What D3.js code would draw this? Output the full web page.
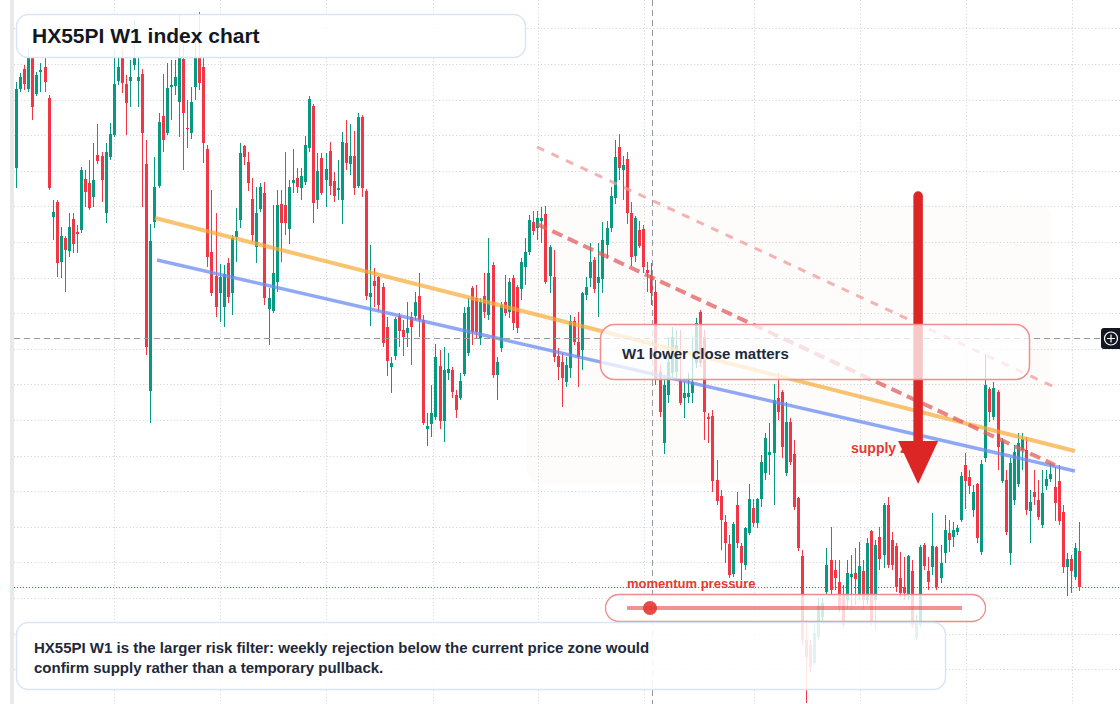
<!DOCTYPE html>
<html><head><meta charset="utf-8">
<script src="https://cdn.jsdelivr.net/npm/d3@7"></script>
<style>html,body{margin:0;padding:0;background:#fff;overflow:hidden}svg{display:block}</style>
</head><body>
<svg id="chart" width="1120" height="704"></svg>
<script>
// ---- data (weekly OHLC, index points) ----
const open = [632,711,731,711,742,706,728,733,702,583,598,538,562,549,581,568,570,621,617,603,645,644,587,643,665,719,742,716,719,735,719,726,636,409,578,614,684,667,713,714,698,741,672,667,713,742,733,651,548,524,507,493,537,507,563,580,654,638,601,553,591,607,491,489,518,596,595,571,617,622,612,618,652,694,600,642,620,649,619,610,600,657,636,644,614,683,609,503,519,523,513,473,433,444,484,470,467,483,484,504,480,371,376,383,434,379,427,430,405,402,426,447,512,502,462,504,485,535,425,452,498,488,522,513,511,533,548,578,572,579,586,524,523,444,438,418,432,479,458,450,505,522,540,517,521,555,572,602,653,630,641,587,544,570,571,530,525,508,428,357,405,427,428,419,402,403,407,437,488,463,383,384,320,304,278,256,226,295,254,235,267,292,277,301,327,345,347,402,408,327,378,346,302,244,160,155,137,163,183,208,240,230,218,205,200,223,227,205,229,200,269,200,263,245,295,260,254,222,213,205,229,162,175,255,229,233,253,222,247,267,263,268,280,335,323,290,316,248,342,411,383,408,319,320,247,300,316,350,350,289,308,300,275,314,321,313,319,288,233,241,223,249];
const high = [718,727,735,752,744,728,737,742,705,600,600,573,564,587,587,575,633,630,640,657,676,648,657,677,750,743,750,725,740,780,742,731,660,576,643,687,726,737,740,740,785,755,700,713,757,788,742,655,610,587,536,535,542,565,592,657,655,648,622,613,617,618,512,595,610,610,648,620,651,632,632,664,704,696,647,647,647,658,628,640,668,680,676,669,687,685,611,555,532,524,517,483,443,483,487,480,498,488,508,527,485,387,415,456,450,453,447,433,410,427,493,502,514,515,502,527,562,538,443,498,525,522,525,515,542,562,585,589,589,593,594,555,550,452,447,443,485,483,488,508,523,557,543,557,578,579,613,660,666,644,648,598,584,579,575,538,537,520,435,420,463,473,470,470,418,427,463,482,490,470,387,390,340,310,285,265,278,308,257,273,316,301,302,345,367,377,416,427,410,398,382,360,303,250,180,160,175,202,202,252,273,240,240,215,240,245,252,258,240,262,270,260,273,297,303,268,257,248,243,245,240,185,255,257,243,287,254,255,285,280,278,275,328,347,330,315,317,340,446,413,418,410,362,330,342,355,367,367,363,310,330,320,330,330,337,333,335,295,247,245,257,278];
const low = [612,708,710,708,680,704,708,708,610,560,523,522,508,543,547,547,567,593,590,593,636,598,577,640,663,715,707,665,693,730,693,593,445,377,572,612,648,665,680,705,663,630,652,661,700,710,637,533,504,483,478,473,497,485,538,572,635,609,558,537,588,495,455,487,508,538,565,556,607,607,600,615,648,577,591,605,593,605,598,600,576,630,625,605,612,603,500,474,493,489,453,424,407,440,453,444,453,435,480,463,375,354,363,380,371,358,420,402,382,400,424,444,455,462,455,482,480,422,400,448,484,482,470,467,500,515,545,565,560,557,516,507,438,420,393,413,422,455,413,430,500,513,507,483,507,542,568,596,620,600,576,534,538,552,527,508,495,415,383,346,397,422,420,395,382,397,397,432,433,360,357,308,295,250,237,222,223,252,220,230,265,273,272,293,320,325,295,380,342,324,335,290,249,155,97,128,135,160,178,205,205,210,188,172,190,190,195,200,190,195,175,170,230,232,232,230,208,203,200,200,172,160,172,230,210,225,210,217,237,248,253,265,278,291,306,283,257,245,338,378,380,330,317,265,235,295,313,330,285,257,295,280,272,310,318,279,275,227,204,207,220,209];
const close = [711,723,716,742,693,725,730,718,612,588,537,564,550,573,556,566,630,608,592,620,639,620,648,666,716,733,717,697,723,742,723,667,453,559,613,678,660,712,715,723,742,687,671,698,742,717,657,543,507,493,523,526,503,562,569,647,643,617,565,587,613,502,502,527,595,577,577,613,620,613,624,655,701,597,629,607,631,614,604,612,658,637,644,612,683,612,504,507,514,495,457,439,437,481,469,463,472,473,498,480,377,374,387,443,379,430,431,408,390,419,487,493,468,468,498,488,527,425,438,495,487,518,477,472,538,548,580,569,582,582,518,553,443,433,422,435,479,458,443,507,513,538,511,523,560,572,604,643,632,635,587,543,582,554,533,527,507,420,388,415,438,463,455,397,407,407,418,477,437,388,381,319,299,280,257,225,276,257,237,272,301,277,301,338,362,348,400,388,353,378,338,293,252,160,143,133,167,195,197,235,210,222,193,175,227,226,221,234,200,257,177,255,241,295,235,235,213,207,207,244,175,177,253,234,218,254,213,237,270,260,270,272,324,319,314,308,262,336,415,388,412,353,359,268,337,348,357,361,290,298,303,283,307,321,326,297,279,233,241,229,252,213];

const xGridIdx = [24.15, 50.2, 76.2, 102.3, 128.1, 154.1, 181.2, 207.2, 233.2, 259.3];
const orangeLine = [[34.13, 582], [260.0, 349]];
const blueLine = [[34.62, 540], [260.0, 329]];
const supplyDashThick = [[127.9, 576], [255.1, 335]];
const supplyDashThin = [[127.9, 653], [254.4, 414]];
const zoneBox = {i0: 125.4, i1: 254.4, p0: 595, p1: 316};
const arrowIdx = 221.5, arrowTop = 604, arrowHeadBase = 359, arrowTip = 316;
const crossIdx = 156.16, crossPrice = 462;
const lastPrice = 213;

const titleText = "HX55PI W1 index chart";
const noteLines = ["HX55PI W1 is the larger risk filter: weekly rejection below the current price zone would",
                   "confirm supply rather than a temporary pullback."];
const calloutText = "W1 lower close matters";
const supplyText = "supply zone";
const momentumText = "momentum pressure";

// ---- scales ----
const W = 1120, H = 704, N = open.length;
const svg = d3.select("#chart");
const x = d3.scaleLinear().domain([0, N - 1]).range([16, 1079]);
const y = d3.scaleLinear().domain([96, 800]).range([704, 0]);
const FONT = "'Liberation Sans', Arial, Helvetica, sans-serif";
const UP = "#089981", DOWN = "#f23645";

svg.append("rect").attr("width", W).attr("height", H).attr("fill", "#fff");
svg.append("rect").attr("x", 10).attr("y", 0).attr("width", 4).attr("height", H).attr("fill", "#e9e9eb");

// grid
const gridG = svg.append("g").attr("stroke", "#cdd0d6").attr("stroke-width", 1).attr("stroke-dasharray", "1,2.4");
const yGrid = d3.range(0, 19).map(k => 771.7 - k * 35.61);
gridG.selectAll("line.h").data(yGrid).join("line")
  .attr("x1", 14).attr("x2", W).attr("y1", d => Math.round(y(d)) + 0.5).attr("y2", d => Math.round(y(d)) + 0.5);
gridG.selectAll("line.v").data(xGridIdx).join("line")
  .attr("y1", 0).attr("y2", H).attr("x1", d => Math.round(x(d)) + 0.5).attr("x2", d => Math.round(x(d)) + 0.5);

// zone
svg.append("rect")
  .attr("x", x(zoneBox.i0)).attr("y", y(zoneBox.p0))
  .attr("width", x(zoneBox.i1) - x(zoneBox.i0)).attr("height", y(zoneBox.p1) - y(zoneBox.p0))
  .attr("rx", 14).attr("fill", "rgba(240,180,120,0.035)");

// candles
const idx = d3.range(N);
const cg = svg.append("g");
cg.selectAll("line.w").data(idx).join("line")
  .attr("x1", i => Math.round(x(i)) + 0.5).attr("x2", i => Math.round(x(i)) + 0.5)
  .attr("y1", i => y(high[i])).attr("y2", i => y(low[i]))
  .attr("stroke", i => close[i] >= open[i] ? UP : DOWN).attr("stroke-width", 1);
cg.selectAll("rect.b").data(idx).join("rect")
  .attr("x", i => Math.round(x(i)) - 1).attr("width", 3)
  .attr("y", i => y(Math.max(open[i], close[i])))
  .attr("height", i => Math.max(1, Math.abs(y(open[i]) - y(close[i]))))
  .attr("fill", i => close[i] >= open[i] ? UP : DOWN);

// trend lines
const lineGen = d3.line().x(d => x(d[0])).y(d => y(d[1]));
svg.append("path").attr("d", lineGen(orangeLine)).attr("stroke", "#f7a935").attr("stroke-opacity", 0.7).attr("stroke-width", 4).attr("fill", "none");
svg.append("path").attr("d", lineGen(blueLine)).attr("stroke", "#6a8cf2").attr("stroke-opacity", 0.75).attr("stroke-width", 3.5).attr("fill", "none");
svg.append("path").attr("d", lineGen(supplyDashThin)).attr("stroke", "#f09a9a").attr("stroke-opacity", 0.75).attr("stroke-width", 3).attr("stroke-dasharray", "8,8").attr("fill", "none");
svg.append("path").attr("d", lineGen(supplyDashThick)).attr("stroke", "#e35d5d").attr("stroke-opacity", 0.75).attr("stroke-width", 4).attr("stroke-dasharray", "11,6").attr("fill", "none");

// crosshair
const cx = Math.round(x(crossIdx)) + 0.5, cy = Math.round(y(crossPrice)) + 0.5;
svg.append("line").attr("x1", cx).attr("x2", cx).attr("y1", 0).attr("y2", H).attr("stroke", "#9598a1").attr("stroke-dasharray", "6,4");
svg.append("line").attr("x1", 14).attr("x2", W).attr("y1", cy).attr("y2", cy).attr("stroke", "#9598a1").attr("stroke-dasharray", "6,4");

// last price line
const ly = Math.round(y(lastPrice)) + 0.5;
svg.append("line").attr("x1", 14).attr("x2", W).attr("y1", ly).attr("y2", ly).attr("stroke", DOWN).attr("stroke-dasharray", "1,2");

// supply zone label + arrow
svg.append("text").attr("x", 851).attr("y", 453).attr("font-family", FONT).attr("font-weight", 700).attr("font-size", 14).attr("fill", "#e53935").text(supplyText);
const ax = x(arrowIdx);
svg.append("line").attr("x1", ax).attr("x2", ax).attr("y1", y(arrowTop)).attr("y2", y(arrowHeadBase) + 2)
  .attr("stroke", "#dc2626").attr("stroke-width", 9.5).attr("stroke-linecap", "round");
svg.append("path").attr("d", `M${ax - 20},${y(arrowHeadBase)} L${ax + 20},${y(arrowHeadBase)} L${ax},${y(arrowTip)} Z`).attr("fill", "#dc2626");

// callout box
svg.append("rect").attr("x", 600.5).attr("y", 324.5).attr("width", 429).attr("height", 55).attr("rx", 14)
  .attr("fill", "rgba(255,255,255,0.75)").attr("stroke", "#ef8f8f").attr("stroke-width", 1.5);
svg.append("text").attr("x", 622).attr("y", 359).attr("font-family", FONT).attr("font-weight", 700).attr("font-size", 15).attr("fill", "#1e293b").text(calloutText);

// momentum pill
svg.append("text").attr("x", 627).attr("y", 588).attr("font-family", FONT).attr("font-weight", 700).attr("font-size", 13).attr("fill", "#e53935").text(momentumText);
svg.append("rect").attr("x", 605.5).attr("y", 594.5).attr("width", 380).attr("height", 27).attr("rx", 13.5)
  .attr("fill", "rgba(255,255,255,0.8)").attr("stroke", "#ee8a8a").attr("stroke-width", 1.3);
svg.append("line").attr("x1", 627).attr("x2", 962).attr("y1", 608).attr("y2", 608).attr("stroke", "#e53935").attr("stroke-opacity", 0.55).attr("stroke-width", 4);
svg.append("circle").attr("cx", 650).attr("cy", 608).attr("r", 7).attr("fill", "#e53935").attr("fill-opacity", 0.9);

// title box
svg.append("rect").attr("x", 16.5).attr("y", 14.5).attr("width", 509).attr("height", 43).attr("rx", 12)
  .attr("fill", "rgba(255,255,255,0.88)").attr("stroke", "#d9e5f7").attr("stroke-width", 1.5);
svg.append("text").attr("x", 32).attr("y", 43).attr("font-family", FONT).attr("font-weight", 700).attr("font-size", 21).attr("fill", "#131722").text(titleText);

// note box
svg.append("rect").attr("x", 16.5).attr("y", 622.5).attr("width", 929).attr("height", 67).attr("rx", 12)
  .attr("fill", "rgba(255,255,255,0.88)").attr("stroke", "#d9e5f7").attr("stroke-width", 1.5);
svg.append("g").selectAll("text").data(noteLines).join("text")
  .attr("x", 34).attr("y", (d, i) => 653 + i * 20).attr("font-family", FONT).attr("font-weight", 700).attr("font-size", 15).attr("fill", "#1e293b").text(d => d);

// crosshair price label
svg.append("rect").attr("x", 1101).attr("y", 328).attr("width", 24).attr("height", 21).attr("rx", 3).attr("fill", "#131722");
svg.append("circle").attr("cx", 1111).attr("cy", 338.5).attr("r", 6.5).attr("fill", "none").attr("stroke", "#fff").attr("stroke-width", 1.2);
svg.append("path").attr("d", "M1107,338.5 H1115 M1111,334.5 V342.5").attr("stroke", "#fff").attr("stroke-width", 1.2);
</script>
</body></html>
